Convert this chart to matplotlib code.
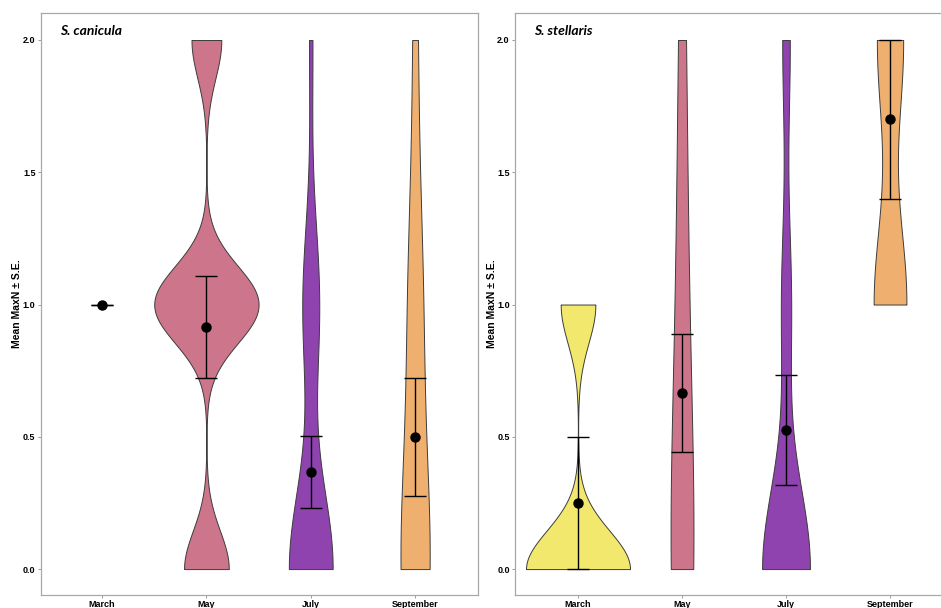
import numpy as np
import matplotlib
matplotlib.use("Agg")
import matplotlib.pyplot as plt

# ---------------- data ----------------
months = ["March", "May", "July", "September"]
species = ["S. canicula", "S. stellaris"]

# raw MaxN samples used for the violin shapes
can_march = [1, 1, 1, 1, 1]
can_may = [0, 0, 0, 1, 1, 1, 1, 1, 1, 1, 2, 2]
can_july = [0, 0, 0, 0, 0, 0, 0, 0, 0, 0, 0, 0, 0, 1, 1, 1, 1, 1, 2]
can_sept = [0, 0, 0, 0, 0, 0, 1, 1, 1, 2]

ste_march = [0, 0, 0, 1]
ste_may = [0, 0, 0, 0, 0, 0, 0, 1, 1, 1, 2, 2]
ste_july = [0, 0, 0, 0, 0, 0, 0, 0, 0, 0, 0, 0, 0, 0, 0, 0, 0, 0, 0,
            1, 1, 1, 1, 2, 2, 2]
ste_sept = [1, 1, 1, 1, 1, 2, 2, 2, 2]

# mean MaxN and standard error
can_mean = [1.00, 0.915, 0.367, 0.499]
can_se = [0.0, 0.193, 0.136, 0.223]
ste_mean = [0.25, 0.665, 0.526, 1.70]
ste_se = [0.25, 0.223, 0.208, 0.30]

yticks = [0.0, 0.5, 1.0, 1.5, 2.0]
ytick_labels = ["0.0", "0.5", "1.0", "1.5", "2.0"]

# ---------------- style ----------------
month_colors = ["#F3E86E", "#CC758B", "#8F43AF", "#EFB06F"]
can_bw = [None, 0.145, 0.30, 0.45]
can_width = [0.0, 1.0, 0.42, 0.28]
ste_bw = [0.145, 0.60, 0.31, 0.31]
ste_width = [1.0, 0.22, 0.46, 0.315]

W, H = 941, 608
fig = plt.figure(figsize=(W / 100, H / 100), dpi=100)


def px_axes(left, top, width, height):
    return fig.add_axes([left / W, 1 - (top + height) / H, width / W, height / H])


def draw_panel(ax, samples, bws, widths, means, ses, title, xlim, label_x):
    for i, (data, bw, w) in enumerate(zip(samples, bws, widths)):
        arr = np.asarray(data, dtype=float)
        if arr.std() == 0 or bw is None:
            continue
        parts = ax.violinplot([arr], positions=[i + 1], widths=w,
                              showextrema=False, showmeans=False,
                              showmedians=False, points=400,
                              bw_method=bw / arr.std(ddof=1))
        body = parts["bodies"][0]
        body.set_facecolor(month_colors[i])
        body.set_edgecolor("#3c3c3c")
        body.set_linewidth(0.7)
        body.set_alpha(1)
        body.set_zorder(2)
    pos = np.arange(1, len(means) + 1)
    ax.errorbar(pos, means, yerr=ses, fmt="o", color="black", ms=6.5,
                capsize=7.6, elinewidth=1.0, capthick=1.0, zorder=4)
    ax.set_xlim(*xlim)
    ax.set_ylim(-0.098, 2.102)
    ax.set_xticks(pos)
    ax.set_xticklabels(months)
    ax.set_yticks(yticks)
    ax.set_yticklabels(ytick_labels)
    ax.tick_params(length=2.3, width=0.6, color="#8c8c8c", pad=1.5,
                   labelsize=6.5)
    for lbl in ax.get_xticklabels() + ax.get_yticklabels():
        lbl.set_fontfamily("Liberation Sans")
        lbl.set_fontweight("bold")
    for sp in ax.spines.values():
        sp.set_color("#a8a8a8")
        sp.set_linewidth(0.9)
    ax.set_ylabel("Mean MaxN \u00b1 S.E.", fontfamily="Liberation Sans",
                  fontweight="bold", fontsize=7.5)
    ax.yaxis.set_label_coords(label_x, 0.5)
    ax.text(0.044, 0.969, title, transform=ax.transAxes, ha="left",
            va="center", fontfamily="Lato", fontweight="bold",
            fontstyle="italic", fontsize=10)


ax1 = px_axes(40.7, 13, 437, 582)
draw_panel(ax1, [can_march, can_may, can_july, can_sept], can_bw, can_width,
           can_mean, can_se, species[0], (0.412, 4.6), -0.042)

ax2 = px_axes(515, 13, 437, 582)
draw_panel(ax2, [ste_march, ste_may, ste_july, ste_sept], ste_bw, ste_width,
           ste_mean, ste_se, species[1], (0.394, 4.596), -0.041)

fig.savefig("out.png", dpi=100)
